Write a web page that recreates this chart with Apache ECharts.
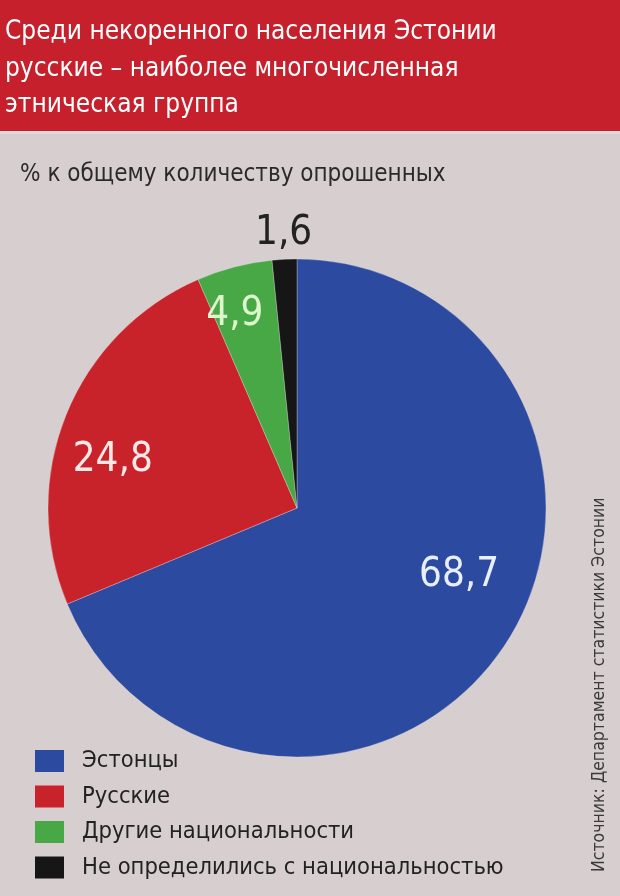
<!DOCTYPE html>
<html><head><meta charset="utf-8">
<script src="https://cdn.jsdelivr.net/npm/echarts@6/dist/echarts.min.js"></script>
<style>html,body{margin:0;padding:0;background:#d7cecf}#c{width:620px;height:896px}</style>
</head><body><div id="c"></div>
<script>
const titleLines = ["Среди некоренного населения Эстонии", "русские – наиболее многочисленная", "этническая группа"];
const subtitle = "% к общему количеству опрошенных";
const source = "Источник: Департамент статистики Эстонии";
const categories = ["Эстонцы", "Русские", "Другие национальности", "Не определились с национальностью"];
const values = [68.7, 24.8, 4.9, 1.6];
const colors = ["#2c4a9f", "#c8232b", "#48a845", "#161616"];
const labelColors = ["#e8efff", "#fde8e8", "#dcf7cc", "#222222"];
const labelOffsets = [[56, -3], [-66, 0], [-30, -70], [-7, -147]];

const FONT = "'DejaVu Sans Condensed', 'Liberation Sans Narrow', sans-serif";
const chart = echarts.init(document.getElementById('c'), null, {renderer: 'canvas'});
const data = categories.map((n, i) => ({
  name: n, value: values[i],
  itemStyle: {color: colors[i]},
  label: {color: labelColors[i], offset: labelOffsets[i]}
}));
chart.setOption({
  animation: false,
  backgroundColor: '#d7cecf',
  graphic: [
    {type: 'rect', shape: {x: 0, y: 0, width: 620, height: 131}, style: {fill: '#c5202b'}, z: 0},
    {type: 'rect', shape: {x: 0, y: 131, width: 620, height: 3}, style: {fill: '#e4d7d9'}, z: 0},
    {type: 'text', x: 608, y: 872, rotation: Math.PI / 2,
     style: {text: source, font: '17.5px ' + FONT, fill: '#3a3a3a', textAlign: 'left', textVerticalAlign: 'bottom'}, z: 5}
  ],
  title: [
    {text: titleLines.join('\n'), left: 0, top: 9,
     textStyle: {color: '#ffffff', fontSize: 26, fontWeight: 'normal', fontFamily: FONT, lineHeight: 36.5}},
    {text: subtitle, left: 15, top: 158,
     textStyle: {color: '#2a2a2a', fontSize: 24, fontWeight: 'normal', fontFamily: FONT}}
  ],
  legend: {
    orient: 'vertical', left: 30, top: 744, height: 150,
    itemWidth: 29, itemHeight: 22, itemGap: 11.5, icon: 'rect',
    data: categories,
    selectedMode: false,
    itemStyle: {borderWidth: 0},
    textStyle: {fontSize: 23.5, lineHeight: 22, color: '#222', fontFamily: FONT, padding: [0, 0, 0, 13]}
  },
  series: [{
    type: 'pie', center: [297, 508], radius: 249,
    startAngle: 90, clockwise: true,
    data: data,
    label: {show: true, position: 'inside', fontSize: 40, fontFamily: FONT,
      formatter: p => String(p.value).replace('.', ',')},
    labelLine: {show: false},
    itemStyle: {borderColor: 'rgba(240,230,230,0.5)', borderWidth: 0.6},
    emphasis: {disabled: true}
  }]
});
</script></body></html>
